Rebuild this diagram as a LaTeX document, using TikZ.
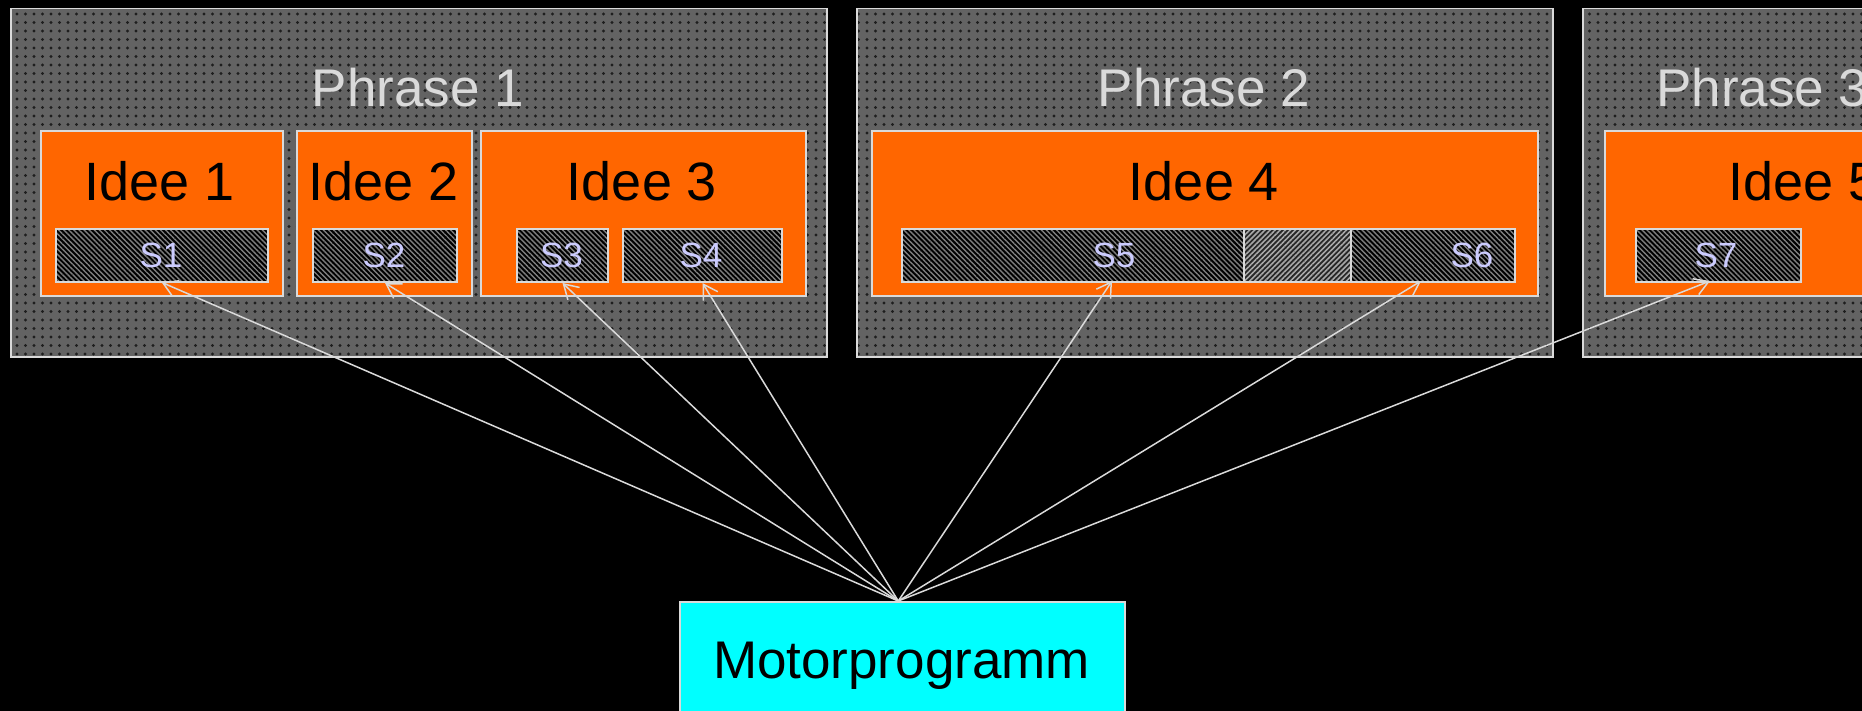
\documentclass[tikz,border=0pt]{standalone}
\usepackage{fontspec}
\setmainfont{Liberation Sans}
\usetikzlibrary{arrows.meta,patterns.meta}
\definecolor{phr}{HTML}{636363}
\definecolor{dotc}{HTML}{1E1E1E}
\definecolor{org}{HTML}{FF6600}
\definecolor{bord}{HTML}{DADADA}
\definecolor{stxt}{HTML}{CCCCFF}
\definecolor{stripe}{HTML}{7E7E7E}
\definecolor{stripeb}{HTML}{A8A8A8}
\definecolor{cyanfill}{RGB}{0,255,255}
\begin{document}
\begin{tikzpicture}[x=1pt,y=-1pt,
  phrasebox/.style={draw=bord, line width=1.5pt, preaction={fill=phr},
    pattern={Dots[distance=8.5pt,radius=1.6pt]}, pattern color=dotc,
    inner sep=0pt, anchor=north west, minimum height=348pt},
  ideebox/.style={draw=bord, line width=2pt, fill=org, inner sep=0pt,
    anchor=north west, minimum height=165pt},
  sbox/.style={draw=bord, line width=2pt, preaction={fill=black},
    pattern={Lines[angle=-45,distance=3.6pt,line width=1.4pt]}, pattern color=stripe,
    inner sep=0pt, anchor=north west, minimum height=53pt},
  ovbox/.style={draw=bord, line width=2pt, preaction={fill=black!85},
    pattern={Lines[angle=45,distance=3.6pt,line width=1.6pt]}, pattern color=stripeb,
    inner sep=0pt, anchor=north west, minimum height=53pt},
  motorbox/.style={draw=bord, line width=1.5pt, fill=cyanfill, inner sep=0pt,
    anchor=north west},
  phrtxt/.style={text=bord, font=\fontsize{53pt}{60pt}\selectfont, inner sep=0pt, anchor=base},
  ideetxt/.style={text=black, font=\fontsize{54pt}{60pt}\selectfont, inner sep=0pt, anchor=base},
  stxtstyle/.style={text=stxt, font=\fontsize{35pt}{40pt}\selectfont, inner sep=0pt, anchor=base},
  arr/.style={draw=bord, line width=1.5pt, -{Straight Barb[length=14pt,width=17pt]}}
]
\useasboundingbox (0,0) rectangle (1862,711);
\clip (0,0) rectangle (1862,711);
\fill[black] (0,0) rectangle (1862,711);

% Phrases
\node[phrasebox, minimum width=816pt] (P1) at (10,8) {};
\node[phrasebox, minimum width=696pt] (P2) at (856,8) {};
\node[phrasebox, minimum width=400pt] (P3) at (1582,8) {};
\node[phrtxt] (L1) at (418,107) {Phrase 1};
\node[phrtxt] (L2) at (1204,107) {Phrase 2};
\node[phrtxt, anchor=base west] (L3) at (1656,107) {Phrase 3};

% Ideas
\node[ideebox, minimum width=242pt] (I1) at (40,130) {};
\node[ideebox, minimum width=175pt] (I2) at (296,130) {};
\node[ideebox, minimum width=325pt] (I3) at (480,130) {};
\node[ideebox, minimum width=666pt] (I4) at (871,130) {};
\node[ideebox, minimum width=400pt] (I5) at (1604,130) {};
\node[ideetxt] (J1) at (160,201) {Idee 1};
\node[ideetxt] (J2) at (384,201) {Idee 2};
\node[ideetxt] (J3) at (642,201) {Idee 3};
\node[ideetxt] (J4) at (1204,201) {Idee 4};
\node[ideetxt, anchor=base west] (J5) at (1728,201) {Idee 5};

% Segments
\node[sbox, minimum width=212pt] (S1) at (55,228) {};
\node[sbox, minimum width=144pt] (S2) at (312,228) {};
\node[sbox, minimum width=91pt] (S3) at (516,228) {};
\node[sbox, minimum width=159pt] (S4) at (622,228) {};
\node[sbox, minimum width=342pt] (S5) at (901,228) {};
\node[ovbox, minimum width=107pt] (S56) at (1243,228) {};
\node[sbox, minimum width=164pt] (S6) at (1350,228) {};
\node[sbox, minimum width=165pt] (S7) at (1635,228) {};
\node[stxtstyle] (T1) at (161,268) {S1};
\node[stxtstyle] (T2) at (384,268) {S2};
\node[stxtstyle] (T3) at (561.5,268) {S3};
\node[stxtstyle] (T4) at (701,268) {S4};
\node[stxtstyle] (T5) at (1114,268) {S5};
\node[stxtstyle] (T6) at (1472,268) {S6};
\node[stxtstyle] (T7) at (1716,268) {S7};

% Motor program
\node[motorbox, minimum width=445pt, minimum height=130pt] (M) at (679,601) {};
\node[ideetxt, font=\fontsize{53pt}{60pt}\selectfont] (MT) at (901.5,678) {Motorprogramm};

\coordinate (src) at ([xshift=-4pt]M.north);
\coordinate (a5) at (1112,281);
\coordinate (a6) at (1421,281);
\coordinate (a7) at (1710,281);

\draw[arr] (src) -- (S1.south);
\draw[arr] (src) -- (S2.south);
\draw[arr] (src) -- (S3.south);
\draw[arr] (src) -- (S4.south);
\draw[arr] (src) -- (a5);
\draw[arr] (src) -- (a6);
\draw[arr] (src) -- (a7);
\end{tikzpicture}
\end{document}
